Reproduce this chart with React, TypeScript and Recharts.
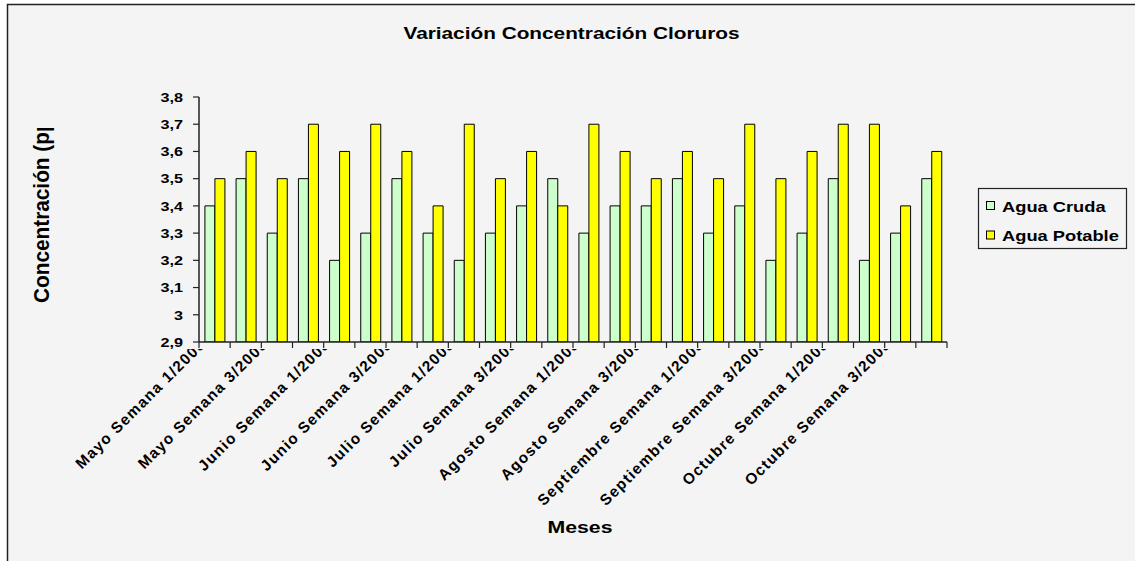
import React from 'react';
import { BarChart, Bar, XAxis, YAxis } from 'recharts';

const categories: string[] = [
  'Mayo Semana 1/2008', 'Mayo Semana 2/2008', 'Mayo Semana 3/2008', 'Mayo Semana 4/2008',
  'Junio Semana 1/2008', 'Junio Semana 2/2008', 'Junio Semana 3/2008', 'Junio Semana 4/2008',
  'Julio Semana 1/2008', 'Julio Semana 2/2008', 'Julio Semana 3/2008', 'Julio Semana 4/2008',
  'Agosto Semana 1/2008', 'Agosto Semana 2/2008', 'Agosto Semana 3/2008', 'Agosto Semana 4/2008',
  'Septiembre Semana 1/2008', 'Septiembre Semana 2/2008', 'Septiembre Semana 3/2008', 'Septiembre Semana 4/2008',
  'Octubre Semana 1/2008', 'Octubre Semana 2/2008', 'Octubre Semana 3/2008', 'Octubre Semana 4/2008',
];

const aguaCruda: number[] = [
  3.4, 3.5, 3.3, 3.5, 3.2, 3.3, 3.5, 3.3, 3.2, 3.3, 3.4, 3.5,
  3.3, 3.4, 3.4, 3.5, 3.3, 3.4, 3.2, 3.3, 3.5, 3.2, 3.3, 3.5,
];

const aguaPotable: number[] = [
  3.5, 3.6, 3.5, 3.7, 3.6, 3.7, 3.6, 3.4, 3.7, 3.5, 3.6, 3.4,
  3.7, 3.6, 3.5, 3.6, 3.5, 3.7, 3.5, 3.6, 3.7, 3.7, 3.4, 3.6,
];

const yTicks: number[] = [2.9, 3, 3.1, 3.2, 3.3, 3.4, 3.5, 3.6, 3.7, 3.8];

const seriesNames: string[] = ['Agua Cruda', 'Agua Potable'];
const seriesColors: string[] = ['#ccffcc', '#ffff00'];

const chartTitle = 'Variación Concentración Cloruros';
const yAxisTitle = 'Concentración (ppm)';
const xAxisTitle = 'Meses';

const data = categories.map((label, i) => ({
  label,
  cruda: aguaCruda[i],
  potable: aguaPotable[i],
}));

const FONT = '"Liberation Sans", Arial, Helvetica, sans-serif';

const fmt = (v: number) => (Number.isInteger(v) ? String(v) : v.toFixed(1).replace('.', ','));

function YTick(props: any) {
  const { x, y, payload } = props;
  return (
    <g transform={`translate(${x},${y})`}>
      <text
        transform="scale(1.2,1)"
        textAnchor="end"
        dy="0.355em"
        fontSize={13.5}
        fontWeight="bold"
        fontFamily={FONT}
        fill="#000"
      >
        {fmt(payload.value)}
      </text>
    </g>
  );
}

function XTick(props: any) {
  const { x, y, payload, index, width, visibleTicksCount } = props;
  const i: number = index ?? payload?.index ?? 0;
  const n: number = visibleTicksCount || categories.length;
  const half: number =
    payload && payload.offset ? payload.offset : width && n ? width / n / 2 : 15.6;
  return (
    <g>
      {i === 0 && (
        <defs>
          <clipPath id="xlabclip" clipPathUnits="userSpaceOnUse">
            <rect x={0} y={y + 7} width={3000} height={600} />
          </clipPath>
        </defs>
      )}
      <line x1={x - half} x2={x - half} y1={y} y2={y + 6} stroke="#222" strokeWidth={1.2} />
      {i === n - 1 && (
        <line x1={x + half} x2={x + half} y1={y} y2={y + 6} stroke="#222" strokeWidth={1.2} />
      )}
      {i % 2 === 0 && (
        <g clipPath="url(#xlabclip)">
          <text
            transform={`translate(${x - 8},${y + 3}) rotate(-45)`}
            textAnchor="end"
            fontSize={15.3}
            fontWeight="bold"
            fontFamily={FONT}
            letterSpacing={1.3}
            fill="#000"
          >
            {payload.value}
          </text>
        </g>
      )}
    </g>
  );
}

export default function App() {
  return (
    <div
      style={{
        position: 'absolute',
        left: 0,
        top: 0,
        width: 1135,
        height: 561,
        overflow: 'hidden',
        background: '#ffffff',
        fontFamily: FONT,
      }}
    >
      <svg
        width={1135}
        height={561}
        style={{ position: 'absolute', left: 0, top: 0 }}
      >
        <rect x={7.5} y={4.5} width={1300} height={800} fill="#f4f4f4" stroke="#222" strokeWidth={1.5} />
      </svg>

      <div style={{ position: 'absolute', left: 0, top: 0 }}>
        <BarChart
          width={1135}
          height={561}
          data={data}
          margin={{ top: 97, right: 188, bottom: 59, left: 139 }}
          barCategoryGap="19%"
          barGap={0}
        >
          <XAxis
            dataKey="label"
            interval={0}
            height={160}
            tickLine={false}
            tickSize={0}
            tickMargin={0}
            axisLine={{ stroke: '#222', strokeWidth: 1.5 }}
            tick={<XTick />}
          />
          <YAxis
            type="number"
            domain={[2.9, 3.8]}
            ticks={yTicks}
            interval={0}
            width={60}
            tickSize={6}
            tickMargin={10}
            tickLine={{ stroke: '#222', strokeWidth: 1.2 }}
            axisLine={{ stroke: '#222', strokeWidth: 1.5 }}
            tick={<YTick />}
            allowDataOverflow
          />
          <Bar
            dataKey="cruda"
            name={seriesNames[0]}
            fill={seriesColors[0]}
            stroke="#000"
            strokeWidth={1}
            isAnimationActive={false}
          />
          <Bar
            dataKey="potable"
            name={seriesNames[1]}
            fill={seriesColors[1]}
            stroke="#000"
            strokeWidth={1}
            isAnimationActive={false}
          />
        </BarChart>
      </div>

      <svg
        width={1135}
        height={561}
        style={{ position: 'absolute', left: 0, top: 0, pointerEvents: 'none' }}
      >
        <defs>
          <clipPath id="ytclip" clipPathUnits="userSpaceOnUse">
            <rect x={0} y={128} width={200} height={400} />
          </clipPath>
        </defs>
        <text
          transform="translate(571.5,39) scale(1.3,1)"
          textAnchor="middle"
          fontSize={16}
          fontWeight="bold"
          fontFamily={FONT}
          fill="#000"
        >
          {chartTitle}
        </text>
        <g clipPath="url(#ytclip)">
          <text
            transform="translate(49,303) scale(1.05,1) rotate(-90)"
            textAnchor="start"
            fontSize={20.8}
            fontWeight="bold"
            fontFamily={FONT}
            fill="#000"
          >
            {yAxisTitle}
          </text>
        </g>
        <text
          transform="translate(580,533) scale(1.25,1)"
          textAnchor="middle"
          fontSize={17}
          fontWeight="bold"
          fontFamily={FONT}
          fill="#000"
        >
          {xAxisTitle}
        </text>
        <g>
          <rect x={978.5} y={188.5} width={148} height={60} fill="#f4f4f4" stroke="#222" strokeWidth={1.2} />
          {seriesNames.map((name, k) => (
            <g key={name}>
              <rect
                x={986.5}
                y={201.5 + k * 29.5}
                width={8}
                height={8}
                fill={seriesColors[k]}
                stroke="#000"
                strokeWidth={1}
              />
              <text
                transform={`translate(1002,${211.5 + k * 29.5}) scale(1.22,1)`}
                fontSize={15}
                fontWeight="bold"
                fontFamily={FONT}
                fill="#000"
              >
                {name}
              </text>
            </g>
          ))}
        </g>
      </svg>
    </div>
  );
}
